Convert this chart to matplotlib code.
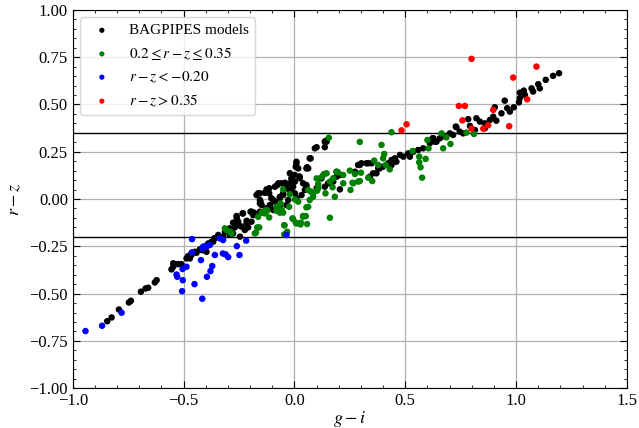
import matplotlib
matplotlib.use('Agg')
import matplotlib.pyplot as plt
import numpy as np

# g-i, r-z colours
black_pts = [
    (-0.845, -0.646), (-0.825, -0.626), (-0.792, -0.584), (-0.747, -0.547), (-0.738, -0.538),
    (-0.693, -0.490), (-0.672, -0.473), (-0.660, -0.469), (-0.630, -0.441), (-0.622, -0.429),
    (-0.555, -0.372), (-0.547, -0.358), (-0.540, -0.344), (-0.525, -0.344), (-0.510, -0.344),
    (-0.472, -0.314), (-0.480, -0.302), (-0.465, -0.287), (-0.442, -0.284), (-0.419, -0.270),
    (-0.404, -0.261), (-0.397, -0.279), (-0.374, -0.226), (-0.362, -0.208), (-0.547, -0.340),
    (-0.472, -0.305), (-0.449, -0.279), (-0.427, -0.266), (-0.404, -0.252), (-0.389, -0.235),
    (-0.359, -0.208), (-0.344, -0.190), (-0.314, -0.173), (-0.292, -0.155), (-0.269, -0.129),
    (-0.259, -0.111), (-0.261, -0.090), (-0.412, -0.270), (-0.487, -0.314), (-0.465, -0.296),
    (-0.367, -0.226), (-0.337, -0.203), (-0.261, -0.097), (-0.277, -0.125), (-0.269, -0.150),
    (-0.250, -0.138), (-0.234, -0.076), (-0.216, -0.115), (-0.209, -0.150), (-0.198, -0.067),
    (-0.183, -0.072), (-0.171, 0.021), (-0.156, 0.030), (-0.153, -0.014), (-0.148, -0.032),
    (-0.126, 0.051), (-0.114, 0.030), (-0.104, 0.004), (-0.088, -0.014), (-0.078, 0.074),
    (-0.059, 0.083), (-0.043, 0.086), (-0.111, -0.041), (-0.096, -0.058), (-0.066, 0.004),
    (-0.051, 0.021), (-0.014, 0.051), (0.002, 0.092), (0.009, 0.189), (0.006, 0.171),
    (-0.021, 0.136), (0.024, 0.110), (0.039, 0.083), (0.054, 0.065), (0.062, 0.162),
    (-0.292, -0.190), (-0.322, -0.199), (-0.224, -0.164), (-0.254, -0.120),
    (0.069, 0.215), (0.017, 0.162), (0.024, 0.118), (-0.073, 0.083), (-0.088, 0.065),
    (-0.114, 0.057), (-0.134, 0.033), (-0.164, 0.030), (-0.156, -0.005), (-0.156, -0.023),
    (-0.232, -0.076), (-0.194, -0.067), (-0.186, -0.085), (-0.096, -0.005), (-0.066, 0.012),
    (-0.021, 0.048), (0.002, 0.030), (0.009, 0.004), (-0.006, 0.065), (0.032, 0.021),
    (0.047, 0.048), (0.054, 0.074), (0.100, 0.057), (0.137, 0.065), (0.152, 0.083),
    (0.175, 0.092), (0.190, 0.118), (0.122, 0.109), (-0.066, -0.041), (-0.036, -0.032),
    (-0.028, -0.005), (-0.111, -0.032), (-0.126, -0.049), (-0.051, 0.030), (-0.036, 0.057),
    (-0.021, 0.083), (-0.014, 0.109), (0.002, 0.127),
    (0.287, 0.180), (0.302, 0.189), (0.325, 0.189), (0.348, 0.189), (0.378, 0.162),
    (0.400, 0.171), (0.423, 0.189), (0.438, 0.206), (0.453, 0.215), (0.476, 0.233),
    (0.491, 0.224), (0.513, 0.241), (0.536, 0.250), (0.558, 0.259), (0.581, 0.268),
    (0.611, 0.295), (0.634, 0.303), (0.656, 0.321), (0.679, 0.330), (0.701, 0.347),
    (0.728, 0.383), (0.190, 0.144), (0.205, 0.127), (0.273, 0.144), (0.340, 0.118),
    (0.370, 0.136), (0.438, 0.180), (0.460, 0.197), (0.521, 0.224),
    (0.100, 0.274), (0.137, 0.274), (0.145, 0.303), (0.009, 0.197), (0.073, 0.215),
    (0.205, 0.051), (0.295, 0.180), (0.333, 0.189), (0.355, 0.136), (0.385, 0.162),
    (0.623, 0.321), (0.641, 0.303), (0.627, 0.321), (0.731, 0.379), (0.784, 0.422),
    (0.821, 0.427), (0.837, 0.409), (0.859, 0.400), (0.882, 0.418), (0.897, 0.435),
    (0.904, 0.485), (0.934, 0.453), (0.949, 0.520), (0.960, 0.480), (0.972, 0.462),
    (0.990, 0.485), (1.013, 0.511), (1.017, 0.533), (1.017, 0.562), (1.035, 0.573),
    (1.040, 0.550), (1.070, 0.585), (1.077, 0.568), (1.100, 0.607), (1.107, 0.585),
    (1.134, 0.630), (1.167, 0.651), (1.194, 0.665), (0.761, 0.347), (0.716, 0.339),
    (0.814, 0.365), (0.792, 0.386), (0.746, 0.356), (0.859, 0.374), (0.911, 0.414),
    (-0.246, -0.199), (-0.277, -0.182), (-0.239, -0.146), (-0.216, -0.129), (-0.194, -0.120),
    (-0.156, -0.067), (0.054, 0.162), (0.092, 0.268), (0.137, 0.303), (0.021, 0.118),
    (0.057, 0.168), (0.142, 0.308),
]

green_pts = [
    (0.155, 0.324), (0.295, 0.302), (0.393, 0.286), (0.438, 0.353), (0.405, 0.238),
    (0.400, 0.215), (0.378, 0.180), (0.412, 0.180), (0.430, 0.157), (0.360, 0.203),
    (0.333, 0.113), (0.351, 0.095), (0.295, 0.095), (0.300, 0.139), (0.273, 0.132),
    (0.250, 0.150), (0.262, 0.086), (0.253, 0.048), (0.220, 0.083), (0.220, 0.127),
    (0.197, 0.141), (0.175, 0.110), (0.160, 0.092), (0.172, 0.062), (0.182, 0.012),
    (0.160, -0.099), (0.140, 0.030), (0.102, 0.044), (0.107, 0.079), (0.122, 0.115),
    (0.134, 0.132), (0.074, 0.039), (0.084, 0.012), (0.069, -0.005), (0.054, -0.044),
    (0.039, -0.090), (0.006, -0.125), (0.027, -0.134), (0.057, -0.132), (-0.009, -0.102),
    (-0.024, -0.041), (0.002, -0.002), (-0.051, -0.072), (-0.045, -0.139), (-0.051, 0.051),
    (0.533, 0.254), (0.563, 0.224), (0.592, 0.212), (0.563, 0.194), (0.569, 0.168),
    (0.576, 0.113), (0.600, 0.312), (0.605, 0.268), (0.664, 0.347), (0.686, 0.326),
    (0.704, 0.291), (0.671, 0.268), (0.776, 0.351), (0.810, 0.344),
    (-0.021, 0.025), (0.017, -0.014), (0.062, -0.041), (0.051, -0.090), (0.029, -0.125),
    (-0.006, -0.106), (0.009, -0.129), (-0.046, -0.138), (-0.033, -0.173), (-0.046, -0.187),
    (-0.066, -0.072), (-0.057, -0.058), (-0.081, -0.062), (-0.114, -0.097), (-0.134, -0.076),
    (-0.123, -0.062), (-0.148, -0.072), (-0.164, -0.094), (-0.168, -0.150), (-0.159, -0.150),
    (-0.179, -0.182), (-0.174, -0.178), (-0.306, -0.164), (-0.292, -0.173), (-0.284, -0.182),
    (-0.314, -0.155), (0.039, -0.093), (-0.141, -0.067), (-0.126, -0.058), (-0.081, -0.041),
    (-0.063, -0.023), (0.100, 0.109), (0.130, 0.127), (0.145, 0.136), (0.190, 0.144),
    (0.265, 0.083), (0.287, 0.092), (0.062, 0.048), (0.084, 0.030), (0.107, 0.057),
]

blue_pts = [
    (-0.943, -0.698), (-0.868, -0.670), (-0.780, -0.601), (-0.462, -0.212), (-0.505, -0.370),
    (-0.487, -0.358), (-0.532, -0.399), (-0.529, -0.411), (-0.504, -0.429), (-0.507, -0.487),
    (-0.451, -0.450), (-0.416, -0.527), (-0.462, -0.282), (-0.422, -0.323), (-0.395, -0.411),
    (-0.379, -0.381), (-0.371, -0.354), (-0.359, -0.296), (-0.310, -0.293), (-0.299, -0.307),
    (-0.323, -0.288), (-0.248, -0.296), (-0.260, -0.249), (-0.218, -0.220), (-0.036, -0.190),
    (-0.412, -0.252), (-0.401, -0.249), (-0.337, -0.208), (-0.322, -0.217), (-0.415, -0.261),
    (-0.397, -0.252), (-0.382, -0.243),
]

red_pts = [
    (0.799, 0.741), (1.092, 0.700), (0.987, 0.642), (0.742, 0.492), (0.769, 0.492),
    (0.758, 0.416), (0.897, 0.471), (1.050, 0.527), (0.799, 0.372), (0.852, 0.372),
    (0.874, 0.390), (0.969, 0.385), (0.506, 0.395), (0.483, 0.363),
]

labels = ['BAGPIPES models', r'$0.2 \leq r-z \leq 0.35$', r'$r-z < -0.20$', r'$r-z > 0.35$']
cuts = [0.35, -0.20]

plt.rcParams['font.family'] = ['Liberation Serif', 'DejaVu Serif']
plt.rcParams['mathtext.fontset'] = 'stix'

fig = plt.figure(figsize=(6.39, 4.28), dpi=100)
ax = fig.add_axes([0.114, 0.093, 0.867, 0.884])
ax.set_axisbelow(True)
ax.grid(True, color='#b0b0b0', lw=0.9)

for pts, c, lab in zip([black_pts, green_pts, blue_pts, red_pts], ['k', 'g', 'b', 'r'], labels):
    x, y = np.array(pts).T
    ax.scatter(x, y, s=22, c=c, label=lab, edgecolors='none', zorder=3)

for c in cuts:
    ax.axhline(c, color='k', lw=1.0, zorder=2)

ax.set_xlim(-1.0, 1.5)
ax.set_ylim(-1.0, 1.0)
ax.set_xticks([-1.0, -0.5, 0.0, 0.5, 1.0, 1.5])
ax.set_yticks(np.arange(-1.0, 1.01, 0.25))
ax.minorticks_on()
ax.tick_params(which='both', direction='in', top=True, right=True, labelsize=12)
ax.tick_params(which='major', length=5)
ax.tick_params(which='minor', length=2.5)
ax.set_xlabel(r'$g-i$', fontsize=13, labelpad=0)
ax.set_ylabel(r'$r-z$', fontsize=13, labelpad=4)
ax.legend(loc='upper left', fontsize=11, markerscale=0.8)

fig.savefig('out.png', dpi=100)
